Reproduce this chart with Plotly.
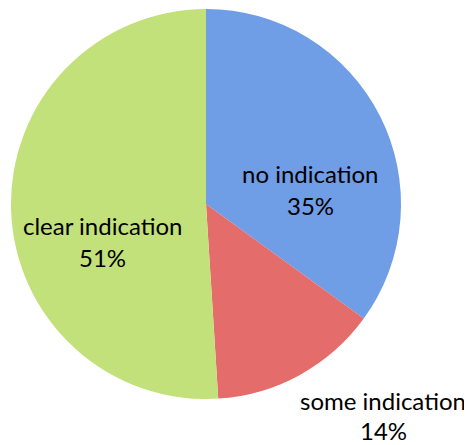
import plotly.graph_objects as go

labels = ["no indication", "some indication", "clear indication"]
values = [35, 14, 51]
colors = ["#6f9de6", "#e46c6a", "#c2e17b"]
# label anchor positions (page pixels): centre x, line1 y, line2 y
label_pos = [(310, 173, 205), (383, 400, 430), (102, 225, 257)]

OFF = 8                      # default page body margin
W, H = 472 - OFF, 445 - OFF  # figure size inside the page
cx, cy, r = 206 - OFF, 204 - OFF, 195

fig = go.Figure(go.Pie(
    labels=labels,
    values=values,
    sort=False,
    direction="clockwise",
    rotation=0,
    textinfo="none",
    hoverinfo="label+percent",
    marker=dict(colors=colors, line=dict(width=0)),
    domain=dict(x=[(cx - r) / W, (cx + r) / W],
                y=[(H - cy - r) / H, (H - cy + r) / H]),
    showlegend=False,
))

total = sum(values)
font = dict(family="Lato", size=24, color="#000000")
for lab, val, (px, y1, y2) in zip(labels, values, label_pos):
    fig.add_annotation(x=(px - OFF) / W, y=1 - (y1 - OFF) / H, xref="paper", yref="paper",
                       text=lab, showarrow=False, font=font,
                       xanchor="center", yanchor="middle")
    fig.add_annotation(x=(px - OFF) / W, y=1 - (y2 - OFF) / H, xref="paper", yref="paper",
                       text=f"{round(100 * val / total)}%", showarrow=False, font=font,
                       xanchor="center", yanchor="middle")

fig.update_layout(width=W, height=H, margin=dict(l=0, r=0, t=0, b=0),
                  paper_bgcolor="white", plot_bgcolor="white")
fig.write_html("out.html")
